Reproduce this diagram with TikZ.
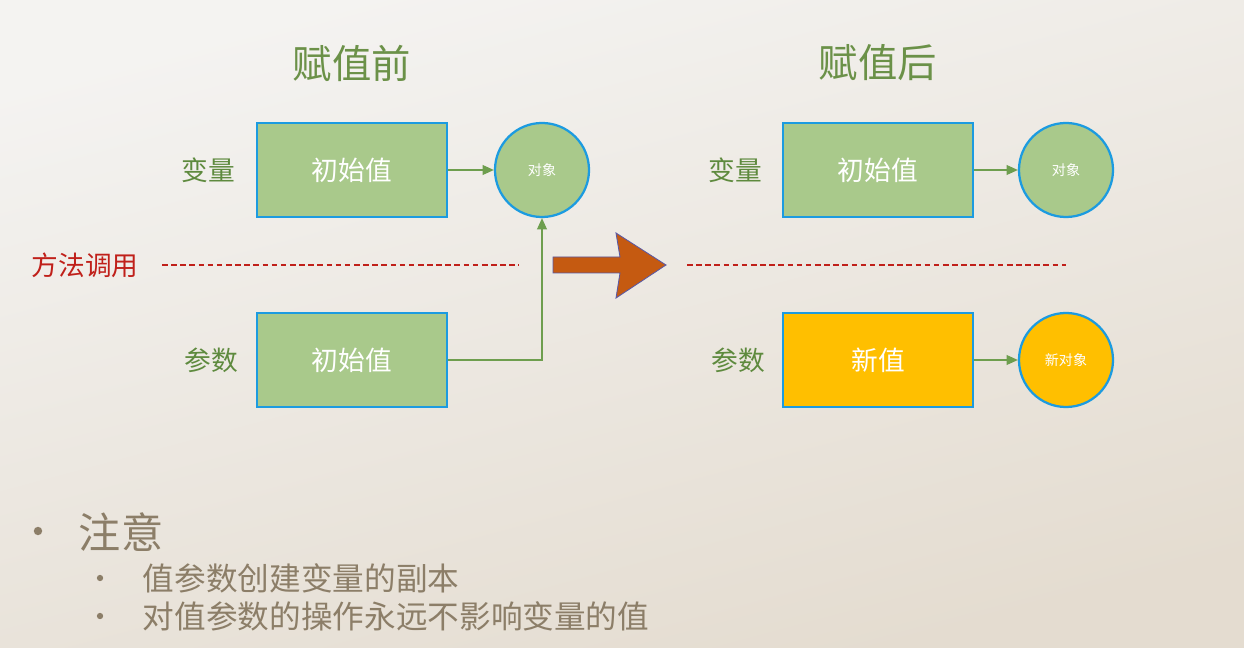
\documentclass[tikz,border=0pt]{standalone}
\usepackage{fontspec}
\usepackage{xcolor}
\usepackage{tikz}
\usetikzlibrary{arrows.meta,positioning}
\newfontfamily\cjk{Noto Sans CJK SC}
\definecolor{valgreen}{HTML}{A9C98B}
\definecolor{valblue}{HTML}{1C9BE0}
\definecolor{valgold}{HTML}{FFBF00}
\definecolor{labgreen}{HTML}{5E8A3E}
\definecolor{titlegreen}{HTML}{6B9148}
\definecolor{linkgreen}{HTML}{6E9E4E}
\definecolor{callred}{HTML}{C0201A}
\definecolor{noteink}{HTML}{8C7E68}
\definecolor{bigorange}{HTML}{C55A11}
\definecolor{bgtop}{HTML}{F4F3F1}
\definecolor{bgbottom}{HTML}{E4DCD0}

\begin{document}
\begin{tikzpicture}[
  x=0.025cm, y=-0.025cm,
  every node/.style={font=\cjk},
  valbox/.style={rectangle, draw=valblue, line width=1.6pt, fill=valgreen,
    minimum width=4.75cm, minimum height=2.35cm, text=white,
    font=\cjk\fontsize{19}{22}\selectfont},
  objcirc/.style={circle, draw=valblue, line width=1.6pt, fill=valgreen,
    minimum size=2.35cm, inner sep=0pt, text=white,
    font=\cjk\fontsize{10}{12}\selectfont},
  sidelabel/.style={text=labgreen, font=\cjk\fontsize{19}{22}\selectfont},
  heading/.style={text=titlegreen, font=\cjk\fontsize{28}{32}\selectfont},
  link/.style={->, linkgreen, line width=0.9pt},
  callline/.style={draw=callred, line width=0.8pt, dash pattern=on 4pt off 2.5pt},
  notedot/.style={circle, fill=noteink, inner sep=0pt},
  >={Triangle[length=8pt,width=7pt]},
]
  % background
  \shade[top color=bgtop, bottom color=bgbottom, shading angle=15]
    (0,0) rectangle (1244,648);
  \useasboundingbox (0,0) rectangle (1244,648);

  % before
  \node[heading] (before) at (352,63) {赋值前};
  \node[valbox] (varA) at (352,170) {初始值};
  \node[objcirc] (objA) at (542,170) {对象};
  \node[valbox] (parA) at (352,360) {初始值};
  \node[sidelabel] (varlabA) at (208,170) {变量};
  \node[sidelabel] (parlabA) at (211,360) {参数};
  \draw[link] (varA) -- (objA);
  \draw[link] (parA.east) -| (objA.south);

  % method call
  \node[text=callred, font=\cjk\fontsize{19}{22}\selectfont] (call) at (85,265) {方法调用};
  \coordinate (callL1) at (162,265);
  \coordinate (callL2) at (519,265);
  \coordinate (callR1) at (687,265);
  \coordinate (callR2) at (1066,265);
  \draw[callline] (callL1) -- (callL2);
  \draw[callline] (callR1) -- (callR2);

  % big arrow
  \draw[fill=bigorange, draw=gray!70!blue, line width=0.6pt]
    (553,257) -- (620,257) -- (616,233) -- (666,265) -- (616,298)
    -- (620,273) -- (553,273) -- cycle;

  % after
  \node[heading] (after) at (878,63) {赋值后};
  \node[valbox] (varB) at (878,170) {初始值};
  \node[objcirc] (objB) at (1066,170) {对象};
  \node[valbox, fill=valgold] (parB) at (878,360) {新值};
  \node[objcirc, fill=valgold] (objC) at (1066,360) {新对象};
  \node[sidelabel] (varlabB) at (735,170) {变量};
  \node[sidelabel] (parlabB) at (738,360) {参数};
  \draw[link] (varB) -- (objB);
  \draw[link] (parB) -- (objC);

  % notes
  \node[notedot, minimum size=6pt] (dotA) at (38,531) {};
  \node[text=noteink, anchor=west, font=\cjk\fontsize{30}{34}\selectfont] (note) at (74,532) {注意};
  \node[notedot, minimum size=4.5pt] (dotB) at (100,578) {};
  \node[text=noteink, anchor=west, font=\cjk\fontsize{22.5}{26}\selectfont] (noteB) at (138,578) {值参数创建变量的副本};
  \node[notedot, minimum size=4.5pt] (dotC) at (100,616) {};
  \node[text=noteink, anchor=west, font=\cjk\fontsize{22.5}{26}\selectfont] (noteC) at (138,616) {对值参数的操作永远不影响变量的值};
\end{tikzpicture}
\end{document}
